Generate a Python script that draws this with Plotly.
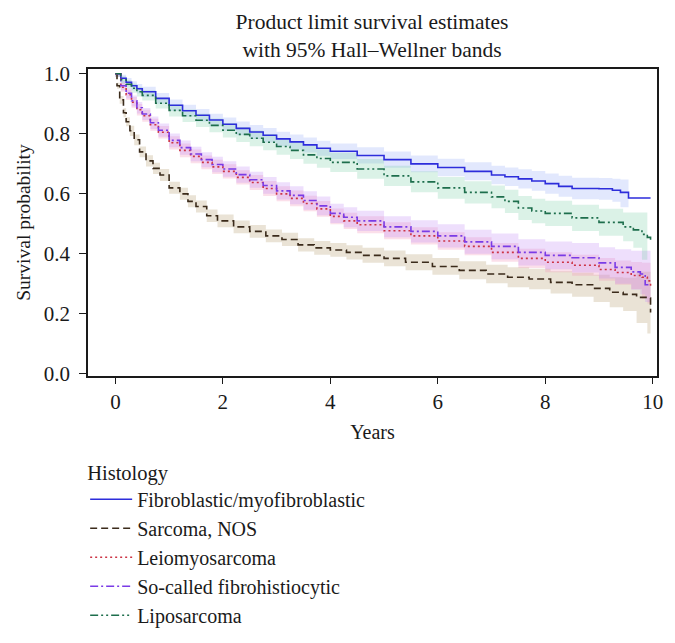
import plotly.graph_objects as go

# ---------------- data ----------------
names = ["Fibroblastic/myofibroblastic", "Sarcoma, NOS", "Leiomyosarcoma",
         "So-called fibrohistiocytic", "Liposarcoma"]

fib_t = [0, 0.1, 0.2, 0.3, 0.4, 0.5, 0.75, 1.0, 1.25, 1.5, 1.75, 2.0, 2.25, 2.5, 2.75, 3.0,
         3.25, 3.5, 3.75, 4.0, 4.5, 5.0, 5.5, 6.0, 6.5, 7.0, 7.25, 7.5, 7.75, 8.0, 8.25, 8.5,
         9.0, 9.25, 9.4, 9.55, 9.96]
fib_s = [1.0, 0.985, 0.972, 0.96, 0.95, 0.94, 0.918, 0.895, 0.877, 0.862, 0.846, 0.832, 0.818,
         0.806, 0.795, 0.783, 0.773, 0.763, 0.752, 0.742, 0.728, 0.714, 0.700, 0.688, 0.675,
         0.663, 0.657, 0.65, 0.643, 0.634, 0.625, 0.618, 0.617, 0.612, 0.605, 0.586, 0.586]
fib_lo = [0.99, 0.972, 0.958, 0.945, 0.934, 0.923, 0.90, 0.876, 0.857, 0.841, 0.825, 0.81,
          0.795, 0.783, 0.771, 0.759, 0.748, 0.738, 0.727, 0.716, 0.701, 0.687, 0.672, 0.659,
          0.645, 0.632, 0.626, 0.618, 0.61, 0.60, 0.59, 0.582, 0.58, 0.574, 0.555, 0.54]
fib_hi = [1.0, 0.997, 0.986, 0.975, 0.966, 0.957, 0.936, 0.914, 0.897, 0.883, 0.867, 0.854,
          0.841, 0.829, 0.819, 0.807, 0.798, 0.788, 0.777, 0.768, 0.755, 0.741, 0.728, 0.717,
          0.705, 0.694, 0.688, 0.682, 0.676, 0.668, 0.66, 0.654, 0.653, 0.65, 0.648, 0.641]

nos_t = [0, 0.03, 0.08, 0.15, 0.2, 0.27, 0.35, 0.45, 0.57, 0.7, 0.83, 1.0, 1.2, 1.35, 1.5,
         1.7, 1.9, 2.2, 2.5, 2.8, 3.1, 3.4, 3.7, 4.0, 4.3, 4.6, 5.0, 5.4, 5.9, 6.4, 6.9, 7.3,
         7.7, 8.1, 8.5, 8.9, 9.2, 9.45, 9.7, 9.9, 9.96]
nos_s = [1.0, 0.96, 0.913, 0.87, 0.84, 0.81, 0.78, 0.74, 0.71, 0.685, 0.663, 0.62, 0.6, 0.575,
         0.558, 0.527, 0.51, 0.49, 0.475, 0.46, 0.448, 0.43, 0.42, 0.413, 0.405, 0.395, 0.385,
         0.372, 0.358, 0.345, 0.333, 0.322, 0.316, 0.305, 0.297, 0.285, 0.272, 0.265, 0.255,
         0.253, 0.205]
nos_lo = [0.995, 0.95, 0.9, 0.855, 0.825, 0.793, 0.762, 0.722, 0.691, 0.666, 0.643, 0.6, 0.58,
          0.555, 0.538, 0.506, 0.489, 0.469, 0.454, 0.439, 0.426, 0.408, 0.397, 0.39, 0.381,
          0.37, 0.359, 0.345, 0.33, 0.315, 0.302, 0.289, 0.282, 0.268, 0.257, 0.24, 0.222,
          0.21, 0.17, 0.135, 0.135]
nos_hi = [1.0, 0.97, 0.926, 0.885, 0.855, 0.827, 0.798, 0.758, 0.729, 0.704, 0.683, 0.64, 0.62,
          0.595, 0.578, 0.548, 0.531, 0.511, 0.496, 0.481, 0.47, 0.452, 0.443, 0.436, 0.429,
          0.42, 0.411, 0.399, 0.386, 0.375, 0.364, 0.355, 0.35, 0.342, 0.337, 0.33, 0.322,
          0.32, 0.34, 0.34, 0.34]

lei_t = [0, 0.1, 0.2, 0.3, 0.4, 0.5, 0.65, 0.8, 1.0, 1.2, 1.4, 1.6, 1.8, 2.0, 2.25, 2.5, 2.75,
         3.0, 3.25, 3.5, 3.75, 4.0, 4.25, 4.5, 5.0, 5.5, 6.0, 6.5, 7.0, 7.5, 8.0, 8.5, 9.0,
         9.3, 9.6, 9.8, 9.9, 9.96]
lei_s = [1.0, 0.955, 0.93, 0.905, 0.88, 0.86, 0.83, 0.805, 0.77, 0.745, 0.725, 0.705, 0.69,
         0.675, 0.655, 0.638, 0.618, 0.6, 0.585, 0.568, 0.55, 0.525, 0.51, 0.497, 0.477, 0.46,
         0.443, 0.425, 0.405, 0.385, 0.372, 0.362, 0.348, 0.338, 0.328, 0.322, 0.31, 0.29]
lei_lo = [0.99, 0.94, 0.913, 0.887, 0.861, 0.84, 0.81, 0.784, 0.748, 0.722, 0.702, 0.682,
          0.666, 0.651, 0.631, 0.613, 0.593, 0.575, 0.559, 0.542, 0.524, 0.499, 0.483, 0.469,
          0.449, 0.431, 0.414, 0.395, 0.374, 0.353, 0.339, 0.327, 0.31, 0.297, 0.283, 0.25,
          0.235, 0.23]
lei_hi = [1.0, 0.97, 0.947, 0.923, 0.899, 0.88, 0.85, 0.826, 0.792, 0.768, 0.748, 0.728,
          0.714, 0.699, 0.679, 0.663, 0.643, 0.625, 0.611, 0.594, 0.576, 0.551, 0.537, 0.525,
          0.505, 0.489, 0.472, 0.455, 0.436, 0.417, 0.405, 0.397, 0.386, 0.378, 0.373, 0.37,
          0.37, 0.37]

fh_t = [0, 0.1, 0.2, 0.3, 0.4, 0.5, 0.65, 0.8, 1.0, 1.2, 1.4, 1.6, 1.8, 2.0, 2.25, 2.5, 2.75,
        3.0, 3.25, 3.5, 3.75, 4.0, 4.25, 4.5, 5.0, 5.5, 6.0, 6.5, 7.0, 7.5, 8.0, 8.5, 9.0,
        9.3, 9.6, 9.77, 9.86, 9.96]
fh_s = [1.0, 0.96, 0.935, 0.91, 0.887, 0.866, 0.837, 0.812, 0.778, 0.754, 0.733, 0.714, 0.698,
        0.683, 0.664, 0.647, 0.628, 0.61, 0.595, 0.578, 0.56, 0.535, 0.522, 0.51, 0.49, 0.475,
        0.46, 0.44, 0.425, 0.405, 0.395, 0.387, 0.37, 0.355, 0.34, 0.333, 0.297, 0.297]
fh_lo = [0.99, 0.945, 0.918, 0.892, 0.868, 0.846, 0.816, 0.79, 0.755, 0.73, 0.709, 0.689,
         0.672, 0.657, 0.637, 0.62, 0.6, 0.581, 0.565, 0.547, 0.529, 0.503, 0.489, 0.476,
         0.455, 0.438, 0.421, 0.4, 0.382, 0.361, 0.349, 0.338, 0.318, 0.3, 0.28, 0.265, 0.24,
         0.24]
fh_hi = [1.0, 0.975, 0.952, 0.928, 0.906, 0.886, 0.858, 0.834, 0.801, 0.778, 0.757, 0.739,
         0.724, 0.709, 0.691, 0.674, 0.656, 0.639, 0.625, 0.609, 0.591, 0.567, 0.555, 0.544,
         0.525, 0.512, 0.499, 0.48, 0.468, 0.449, 0.441, 0.436, 0.422, 0.415, 0.41, 0.41,
         0.41, 0.41]

lip_t = [0, 0.1, 0.2, 0.3, 0.4, 0.5, 0.75, 1.0, 1.25, 1.5, 1.75, 2.0, 2.25, 2.5, 2.75, 3.0,
         3.25, 3.5, 3.75, 4.0, 4.5, 5.0, 5.5, 6.0, 6.5, 7.0, 7.25, 7.5, 7.75, 8.0, 8.5, 9.0,
         9.45, 9.64, 9.8, 9.9, 9.96]
lip_s = [1.0, 0.98, 0.965, 0.952, 0.94, 0.928, 0.902, 0.878, 0.86, 0.845, 0.828, 0.812, 0.798,
         0.785, 0.772, 0.758, 0.745, 0.73, 0.718, 0.705, 0.683, 0.66, 0.64, 0.62, 0.605, 0.59,
         0.575, 0.553, 0.543, 0.535, 0.52, 0.505, 0.49, 0.48, 0.465, 0.455, 0.44]
lip_lo = [0.99, 0.968, 0.951, 0.937, 0.924, 0.911, 0.884, 0.858, 0.839, 0.823, 0.805, 0.788,
          0.773, 0.759, 0.745, 0.73, 0.716, 0.7, 0.687, 0.673, 0.65, 0.626, 0.605, 0.584,
          0.568, 0.552, 0.536, 0.513, 0.502, 0.493, 0.476, 0.46, 0.442, 0.42, 0.38, 0.35]
lip_hi = [1.0, 0.992, 0.979, 0.967, 0.956, 0.945, 0.92, 0.898, 0.881, 0.867, 0.851, 0.836,
          0.823, 0.811, 0.799, 0.786, 0.774, 0.76, 0.749, 0.737, 0.716, 0.694, 0.675, 0.656,
          0.642, 0.628, 0.614, 0.593, 0.584, 0.577, 0.564, 0.55, 0.538, 0.538, 0.538, 0.538]

x_ticks = [0, 2, 4, 6, 8, 10]
y_ticks = [0.0, 0.2, 0.4, 0.6, 0.8, 1.0]
y_tick_text = ["0.0", "0.2", "0.4", "0.6", "0.8", "1.0"]

# ---------------- styling ----------------
series = [
    (names[0], fib_t, fib_s, fib_lo, fib_hi, "#2d2ddb", "rgba(110,140,245,0.20)", "solid"),
    (names[1], nos_t, nos_s, nos_lo, nos_hi, "#3b2b1b", "rgba(190,170,130,0.33)", "7px,4px"),
    (names[2], lei_t, lei_s, lei_lo, lei_hi, "#cc3344", "rgba(240,140,180,0.28)", "2px,3px"),
    (names[3], fh_t, fh_s, fh_lo, fh_hi, "#7a3be6", "rgba(195,140,245,0.28)", "8px,3px,2px,3px"),
    (names[4], lip_t, lip_s, lip_lo, lip_hi, "#1d6e4c", "rgba(110,205,160,0.25)",
     "8px,3px,2px,3px,2px,3px"),
]

FONT = "Liberation Serif"
fig = go.Figure()

# confidence bands first
for name, t, s, lo, hi, col, band, dash in series:
    bt = t[:len(lo)]
    fig.add_trace(go.Scatter(x=bt, y=lo, mode="lines", line=dict(width=0, shape="hv"),
                             showlegend=False, hoverinfo="skip"))
    fig.add_trace(go.Scatter(x=bt, y=hi, mode="lines", line=dict(width=0, shape="hv"),
                             fill="tonexty", fillcolor=band, showlegend=False,
                             hoverinfo="skip"))

for name, t, s, lo, hi, col, band, dash in series:
    fig.add_trace(go.Scatter(x=t, y=s, mode="lines", name=name,
                             line=dict(color=col, width=1.6, dash=dash, shape="hv")))

fig.update_layout(
    width=659, height=627,
    paper_bgcolor="white", plot_bgcolor="white",
    margin=dict(l=80, r=10, t=61, b=259, autoexpand=False),
    font=dict(family=FONT, size=20, color="#1a1a1a"),
    title=dict(text="Product limit survival estimates<br>with 95% Hall\u2013Wellner bands",
               x=0.5524, xanchor="center", y=0.966, yanchor="top",
               font=dict(family=FONT, size=21.5, color="#1a1a1a")),
    xaxis=dict(range=[-0.51, 10.08], tickvals=x_ticks, ticks="outside", ticklen=6,
               tickwidth=1.3, tickcolor="#1a1a1a", showline=True, linecolor="#1a1a1a",
               linewidth=1.5, mirror=True, showgrid=False, zeroline=False,
               tickfont=dict(size=21), ticklabelstandoff=0,
               title=dict(text="Years", font=dict(size=20), standoff=12)),
    yaxis=dict(range=[-0.007, 1.016], tickvals=y_ticks, ticktext=y_tick_text,
               ticks="outside", ticklen=7, tickwidth=1.3, tickcolor="#1a1a1a",
               showline=True, linecolor="#1a1a1a", linewidth=1.5, mirror=True,
               showgrid=False, zeroline=False, tickfont=dict(size=21),
               ticklabelstandoff=5,
               title=dict(text="Survival probability", font=dict(size=19.5), standoff=8)),
    legend=dict(x=-0.005, xanchor="left", y=-0.251, yanchor="top",
                traceorder="normal", itemwidth=42,
                title=dict(text="Histology", font=dict(size=20.5)),
                font=dict(size=20), bgcolor="rgba(0,0,0,0)", tracegroupgap=0),
)

fig.write_html("out.html")
